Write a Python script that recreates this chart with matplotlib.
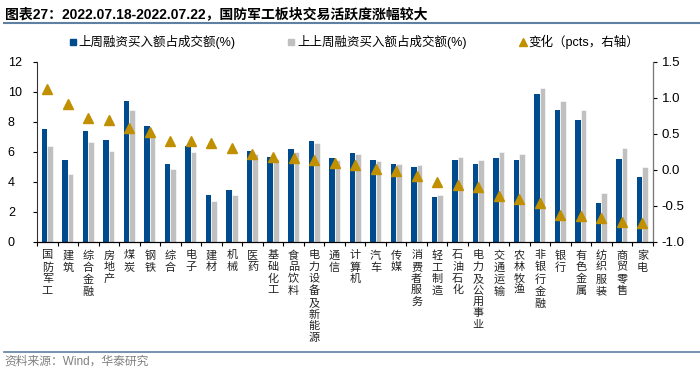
import matplotlib
matplotlib.use('Agg')
import matplotlib.pyplot as plt
import numpy as np
from matplotlib.lines import Line2D
from matplotlib.ticker import FormatStrFormatter

plt.rcParams['font.family'] = ['Liberation Sans', 'Noto Sans CJK SC', 'DejaVu Sans']
plt.rcParams['axes.unicode_minus'] = False

categories = ['国防军工', '建筑', '综合金融', '房地产', '煤炭', '钢铁', '综合', '电子', '建材', '机械',
              '医药', '基础化工', '食品饮料', '电力设备及新能源', '通信', '计算机', '汽车', '传媒',
              '消费者服务', '轻工制造', '石油石化', '电力及公用事业', '交通运输', '农林牧渔',
              '非银行金融', '银行', '有色金属', '纺织服装', '商贸零售', '家电']
last_week = [7.54, 5.44, 7.41, 6.81, 9.37, 7.76, 5.22, 6.43, 3.14, 3.47,
             6.08, 5.70, 6.17, 6.76, 5.57, 5.95, 5.44, 5.17, 5.02, 3.03,
             5.50, 5.22, 5.62, 5.49, 9.85, 8.79, 8.15, 2.60, 5.53, 4.31]
prev_week = [6.41, 4.51, 6.65, 6.08, 8.77, 7.23, 4.84, 6.03, 2.76, 3.14,
             5.84, 5.55, 5.99, 6.61, 5.44, 5.88, 5.42, 5.19, 5.11, 3.16,
             5.70, 5.44, 5.99, 5.86, 10.30, 9.42, 8.79, 3.27, 6.24, 5.02]
change = [1.13, 0.91, 0.72, 0.70, 0.58, 0.53, 0.40, 0.40, 0.37, 0.31,
          0.22, 0.18, 0.16, 0.14, 0.10, 0.07, 0.02, -0.02, -0.08, -0.17,
          -0.21, -0.24, -0.36, -0.40, -0.46, -0.63, -0.64, -0.67, -0.72, -0.74]

legend_labels = ['上周融资买入额占成交额(%)', '上上周融资买入额占成交额(%)', '变化（pcts，右轴）']
title = '图表27：2022.07.18-2022.07.22，国防军工板块交易活跃度涨幅较大'
source = '资料来源：Wind，华泰研究'

BLUE = '#004B8D'
GRAY = '#C0C0C0'
GOLD = '#C09000'
LINE = '#5F7FA3'

W, H = 700, 374
fig = plt.figure(figsize=(W / 100, H / 100), dpi=100)
ax = fig.add_axes([37 / W, 1 - 242 / H, (652.7 - 37) / W, (242 - 62) / H])

x = np.arange(len(categories))
w = 0.27
ax.bar(x - w / 2, last_week, w, color=BLUE, zorder=2)
ax.bar(x + w / 2, prev_week, w, color=GRAY, edgecolor='white', linewidth=0.4, zorder=2)
ax.set_ylim(0, 12)
ax.set_yticks(range(0, 13, 2))
ax.set_xlim(-0.5, len(categories) - 0.5)
ax.set_xticks(x)
ax.set_xticklabels(['\n'.join(c) for c in categories], fontsize=8, linespacing=1.2,
                   va='top', color='#222222')
ax.tick_params(axis='x', which='major', length=0, pad=6)
ax.set_xticks(np.arange(-0.5, len(categories), 1), minor=True)
ax.tick_params(axis='x', which='minor', length=3, direction='out', width=0.8)
ax.tick_params(axis='y', length=3, direction='out', labelsize=9, width=0.8, pad=18)
for lab in ax.get_yticklabels():
    lab.set_horizontalalignment('left')
ax.spines['top'].set_visible(False)
ax.spines['left'].set_color('#333333')
ax.spines['bottom'].set_color('#000000')

ax2 = ax.twinx()
ax2.plot(x, change, linestyle='none', marker='^', color=GOLD, ms=7.5, zorder=3)
ax2.set_ylim(-1, 1.5)
ax2.set_yticks(np.arange(-1, 1.51, 0.5))
ax2.yaxis.set_major_formatter(FormatStrFormatter('%.1f'))
ax2.tick_params(axis='y', length=3, direction='out', labelsize=9.5, width=0.8)
ax2.spines['top'].set_visible(False)
ax2.spines['right'].set_color('#777777')
ax2.spines['left'].set_visible(False)

handles = [Line2D([], [], ls='none', marker='s', color=BLUE, ms=5),
           Line2D([], [], ls='none', marker='s', color=GRAY, ms=5),
           Line2D([], [], ls='none', marker='^', color=GOLD, ms=6)]
fig.legend(handles, legend_labels, loc='center', bbox_to_anchor=(354 / W, 1 - 42 / H), ncol=3,
           frameon=False, fontsize=9, handlelength=0.6, handletextpad=0.15, columnspacing=4.2)

fig.text(5 / W, 1 - 14 / H, title, fontsize=10, fontweight='bold', ha='left', va='center')
fig.add_artist(Line2D([4 / W, 1], [1 - 23 / H, 1 - 23 / H], color=LINE, lw=1.5))
fig.add_artist(Line2D([4 / W, 1], [1 - 351.5 / H, 1 - 351.5 / H], color=LINE, lw=1.2))
fig.text(4 / W, 1 - 362 / H, source, fontsize=8.5, color='#808080', ha='left', va='center')

fig.savefig('out.png', dpi=100)
